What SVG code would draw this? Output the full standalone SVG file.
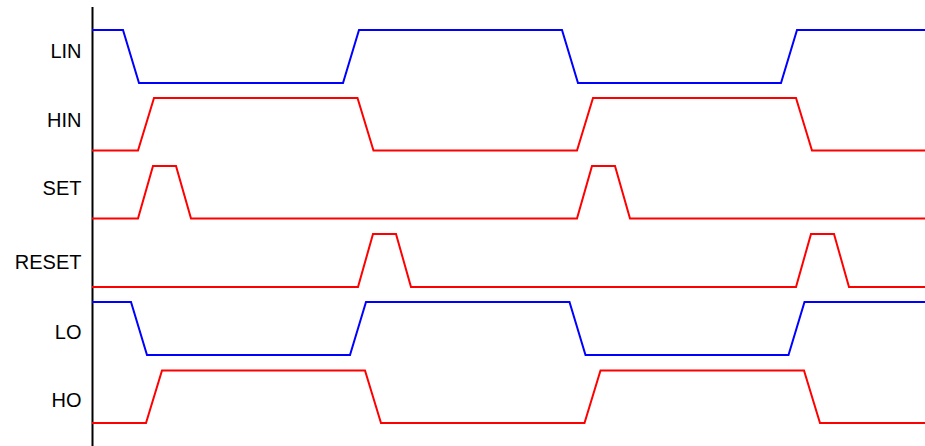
<svg xmlns="http://www.w3.org/2000/svg" width="925" height="446" viewBox="0 0 925 446">
<style>
.lbl{font-family:"Liberation Sans",Arial,sans-serif;font-size:20px;fill:#000;text-anchor:end}
.w{fill:none;stroke-width:2;stroke-linejoin:miter}
.b{stroke:#0000ff}
.r{stroke:#ff0000}
</style>
<rect width="925" height="446" fill="#fff"/>
<g id="axis"><line x1="92.5" y1="7" x2="92.5" y2="446" stroke="#000" stroke-width="2"/></g>
<g id="LIN"><text class="lbl" x="81.5" y="58">LIN</text>
<path class="w b" d="M92,30 H123 L139,83 H343 L359,30 H562 L578,83 H781 L797,30 H925"/></g>
<g id="HIN"><text class="lbl" x="81.5" y="127">HIN</text>
<path class="w r" d="M92,150.5 H138 L154,98 H357.5 L373.5,150.5 H577 L593,98 H796 L812,150.5 H925"/></g>
<g id="SET"><text class="lbl" x="81.5" y="195">SET</text>
<path class="w r" d="M92,218.5 H138 L153,166 H176 L191,218.5 H577 L592,166 H615 L630,218.5 H925"/></g>
<g id="RESET"><text class="lbl" x="81.5" y="269">RESET</text>
<path class="w r" d="M92,287 H358 L373,234 H396 L411,287 H796 L811,234 H834 L849,287 H925"/></g>
<g id="LO"><text class="lbl" x="81.5" y="339">LO</text>
<path class="w b" d="M92,302 H131 L147,355 H350 L366,302 H569.5 L585.5,355 H788.5 L804.5,302 H925"/></g>
<g id="HO"><text class="lbl" x="81.5" y="407">HO</text>
<path class="w r" d="M92,423 H146 L162,370.5 H365 L381,423 H584.5 L600.5,370.5 H804 L820,423 H925"/></g>
</svg>
